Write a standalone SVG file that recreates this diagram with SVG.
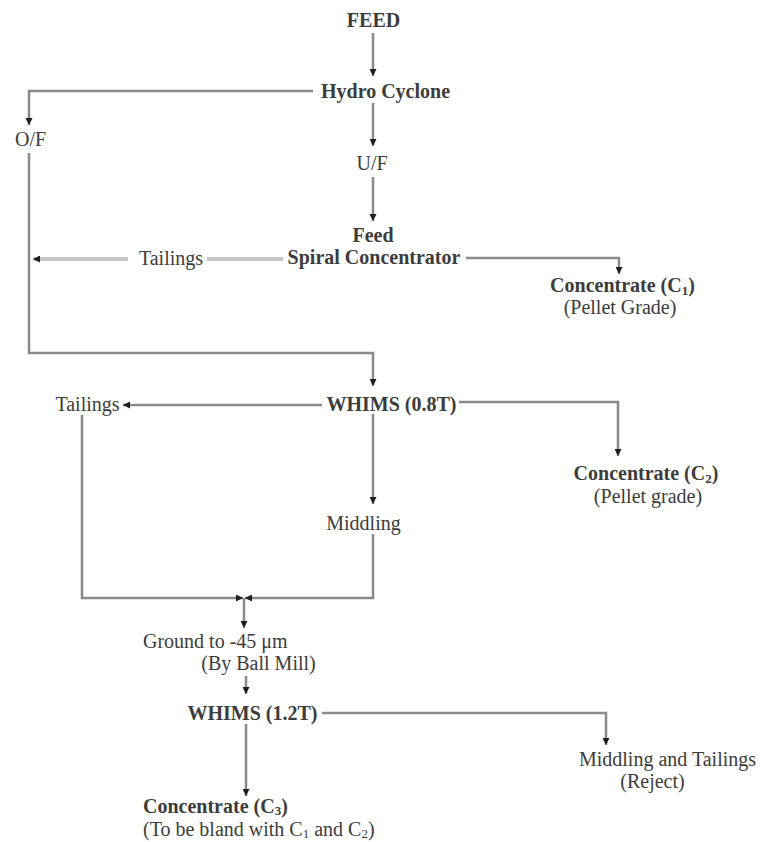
<svg xmlns="http://www.w3.org/2000/svg" width="770" height="842" viewBox="0 0 770 842">
<style>
text{font-family:"Liberation Serif","Tinos","Times New Roman","DejaVu Serif",serif;font-size:20px;fill:#3c3c3c}
.b{font-weight:bold}
.m{text-anchor:middle}
.ln{fill:none;stroke:#8a8a8a;stroke-width:2.5}
.lt{fill:none;stroke:#c6c6c6;stroke-width:4}
.sub{font-size:13px}
</style>
<defs>
<marker id="ah" viewBox="0 0 8 8" refX="8" refY="4" markerWidth="7" markerHeight="7" markerUnits="userSpaceOnUse" orient="auto">
<path d="M0,0 L8,4 L0,8 z" fill="#1e1e1e"/>
</marker>
</defs>
<rect width="770" height="842" fill="#fff"/>
<g id="connectors">
<path class="ln" d="M373,33 V76" marker-end="url(#ah)"/>
<path class="ln" d="M313,91 H29 V125" marker-end="url(#ah)"/>
<path class="ln" d="M373,103 V146" marker-end="url(#ah)"/>
<path class="ln" d="M373,177 V221" marker-end="url(#ah)"/>
<path class="lt" d="M283,259 H207"/>
<path class="lt" d="M128,259 H33" marker-end="url(#ah)"/>
<path class="ln" d="M466,258 H619 V274" marker-end="url(#ah)"/>
<path class="ln" d="M29,153 V353 H373 V386" marker-end="url(#ah)"/>
<path class="ln" d="M322,405 H123" marker-end="url(#ah)"/>
<path class="ln" d="M459,402 H618 V456" marker-end="url(#ah)"/>
<path class="ln" d="M373,414 V504" marker-end="url(#ah)"/>
<path class="ln" d="M82,415 V598 H243" marker-end="url(#ah)"/>
<path class="ln" d="M373,534 V598 H245" marker-end="url(#ah)"/>
<path class="ln" d="M244,598 V628" marker-end="url(#ah)"/>
<path class="ln" d="M246,676 V694" marker-end="url(#ah)"/>
<path class="ln" d="M322,713 H606 V745" marker-end="url(#ah)"/>
<path class="ln" d="M246,724 V796" marker-end="url(#ah)"/>
</g>
<g id="feed"><text class="b m" x="373.5" y="27">FEED</text></g>
<g id="hydro-cyclone"><text class="b m" x="385.5" y="98">Hydro Cyclone</text></g>
<g id="of"><text class="m" x="30.5" y="146">O/F</text></g>
<g id="uf"><text class="m" x="372" y="170">U/F</text></g>
<g id="spiral-concentrator">
<text class="b m" x="373" y="242">Feed</text>
<text class="b m" x="374" y="264">Spiral Concentrator</text>
</g>
<g id="tailings-1"><text class="m" x="171" y="265">Tailings</text></g>
<g id="concentrate-c1">
<text class="b m" x="622.5" y="292">Concentrate (C<tspan class="sub" dy="3">1</tspan><tspan dy="-3">)</tspan></text>
<text class="m" x="620" y="314">(Pellet Grade)</text>
</g>
<g id="whims-08"><text class="b m" x="391.5" y="411">WHIMS (0.8T)</text></g>
<g id="tailings-2"><text class="m" x="87.5" y="411">Tailings</text></g>
<g id="concentrate-c2">
<text class="b m" x="646" y="480">Concentrate (C<tspan class="sub" dy="3">2</tspan><tspan dy="-3">)</tspan></text>
<text class="m" x="648" y="503">(Pellet grade)</text>
</g>
<g id="middling"><text class="m" x="363.5" y="530">Middling</text></g>
<g id="ball-mill">
<text x="143" y="648">Ground to -45 μm</text>
<text class="m" x="258.5" y="670">(By Ball Mill)</text>
</g>
<g id="whims-12"><text class="b m" x="252.5" y="720">WHIMS (1.2T)</text></g>
<g id="reject">
<text class="m" x="667.5" y="766">Middling and Tailings</text>
<text class="m" x="652.5" y="788">(Reject)</text>
</g>
<g id="concentrate-c3">
<text class="b" x="143" y="813">Concentrate (C<tspan class="sub" dy="2">3</tspan><tspan dy="-2">)</tspan></text>
<text x="143" y="836">(To be bland with C<tspan class="sub" dy="2">1</tspan><tspan dy="-2"> and C</tspan><tspan class="sub" dy="2">2</tspan><tspan dy="-2">)</tspan></text>
</g>
</svg>
